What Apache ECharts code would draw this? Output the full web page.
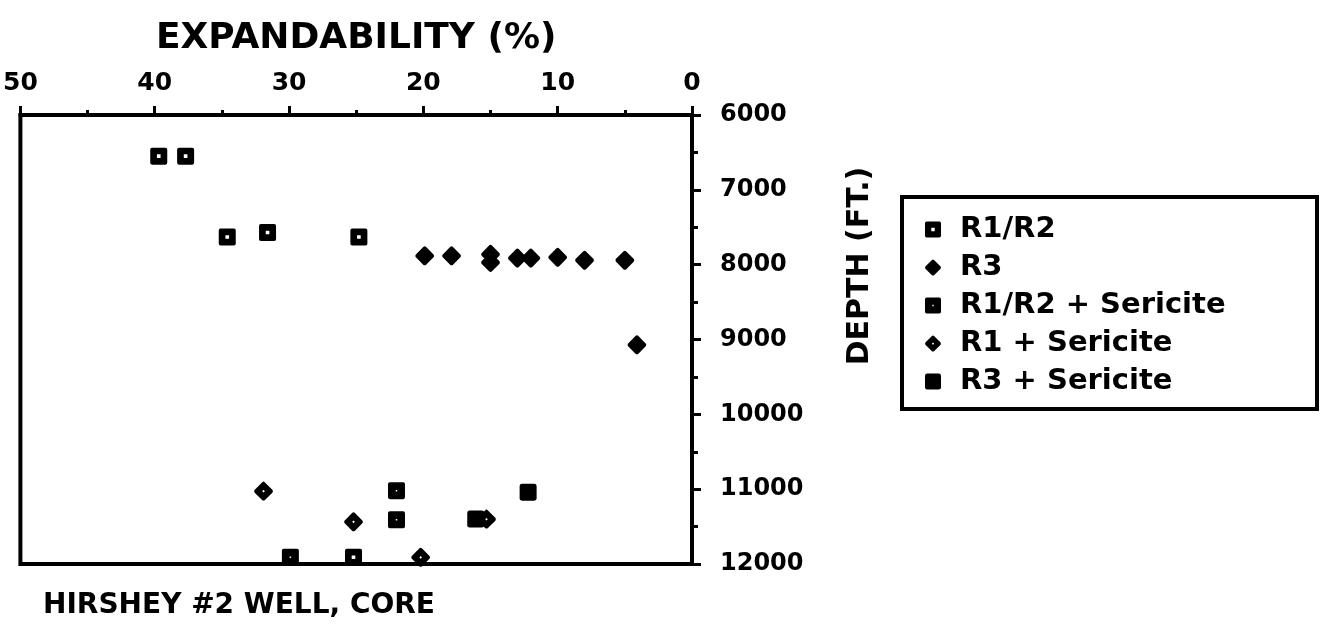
<!DOCTYPE html>
<html>
<head>
<meta charset="utf-8">
<title>Hirshey #2 Well, Core</title>
<script src="https://cdn.jsdelivr.net/npm/echarts@6/dist/echarts.min.js"></script>
<style>
  html, body { margin: 0; padding: 0; background: #fff; }
  #chart { width: 1323px; height: 627px; }
</style>
</head>
<body>
<div id="chart"></div>
<script>
// Expandability (%) vs depth (ft) for the clay samples, grouped by ordering type
const xTicks = [0, 10, 20, 30, 40, 50];
const depthTicks = [6000, 7000, 8000, 9000, 10000, 11000, 12000];

const seriesNames = ['R1/R2', 'R3', 'R1/R2 + Sericite', 'R1 + Sericite', 'R3 + Sericite'];

// [expandability %, depth ft]
const r1r2 = [[39.7, 6550], [37.7, 6550], [34.6, 7630], [31.6, 7570], [24.8, 7630], [25.2, 11910]];
const r3 = [[19.9, 7880], [17.9, 7880], [15.0, 7860], [15.0, 7970], [13.0, 7910], [12.0, 7910],
            [10.0, 7900], [8.0, 7940], [5.0, 7940], [4.1, 9070]];
const r1r2Sericite = [[29.9, 11910], [22.0, 11020], [22.0, 11410]];
const r1Sericite = [[31.9, 11025], [25.2, 11435], [15.3, 11400], [20.2, 11910]];
const r3Sericite = [[16.1, 11400], [12.2, 11040]];

const FONT = 'DejaVu Sans';
const INK = '#000';

// marker shapes: outer outline with an inner hole of opposite winding
const SYM_OPEN_SQUARE = 'path://M1.5,0H12.5Q14,0 14,1.5V12.5Q14,14 12.5,14H1.5Q0,14 0,12.5V1.5Q0,0 1.5,0Z M5.5,5.5V8.5H8.5V5.5Z';
const SYM_DOT_SQUARE = 'path://M1.5,0H12.5Q14,0 14,1.5V12.5Q14,14 12.5,14H1.5Q0,14 0,12.5V1.5Q0,0 1.5,0Z M6.4,6.4V7.6H7.6V6.4Z';
const SYM_SOLID_SQUARE = 'path://M2,0H12Q14,0 14,2V12Q14,14 12,14H2Q0,14 0,12V2Q0,0 2,0Z';
const SYM_SOLID_DIAMOND = 'path://M8,0Q8.6,0 9,0.5L15.5,7Q16,8 15.5,9L9,15.5Q8,16 7,15.5L0.5,9Q0,8 0.5,7L7,0.5Q7.4,0 8,0Z';
const SYM_DOT_DIAMOND = 'path://M8,0Q8.6,0 9,0.5L15.5,7Q16,8 15.5,9L9,15.5Q8,16 7,15.5L0.5,9Q0,8 0.5,7L7,0.5Q7.4,0 8,0Z M8,6.9L6.9,8L8,9.1L9.1,8Z';

function scatter(name, data, symbol, size) {
  return {
    name: name,
    type: 'scatter',
    data: data,
    symbol: symbol,
    symbolSize: size,
    symbolKeepAspect: true,
    itemStyle: { color: INK, opacity: 1 },
    z: 5
  };
}

const chart = echarts.init(document.getElementById('chart'), null, { renderer: 'canvas' });

chart.setOption({
  animation: false,
  backgroundColor: '#fff',
  textStyle: { fontFamily: FONT, fontWeight: 'bold', color: INK },
  title: {
    text: 'HIRSHEY #2 WELL, CORE',
    left: 43,
    top: 592,
    padding: 0,
    textStyle: { fontFamily: FONT, fontWeight: 'bold', fontSize: 28, color: INK }
  },
  grid: {
    left: 16.5, right: 631, top: 115, bottom: 63,
    show: true, borderColor: INK, borderWidth: 4, backgroundColor: 'transparent'
  },
  xAxis: {
    type: 'value',
    position: 'top',
    inverse: true,
    min: xTicks[0],
    max: xTicks[xTicks.length - 1],
    interval: 10,
    name: 'EXPANDABILITY (%)',
    nameLocation: 'middle',
    nameGap: 58,
    nameTextStyle: { fontFamily: FONT, fontWeight: 'bold', fontSize: 36, color: INK },
    axisLine: { show: true, lineStyle: { color: INK, width: 4 } },
    axisTick: { show: true, inside: false, length: 9, lineStyle: { color: INK, width: 3 } },
    minorTick: { show: true, splitNumber: 2, length: 5, lineStyle: { color: INK, width: 3 } },
    splitLine: { show: false },
    axisLabel: { fontFamily: FONT, fontWeight: 'bold', fontSize: 25, color: INK, margin: 19 }
  },
  yAxis: {
    type: 'value',
    position: 'right',
    inverse: true,
    min: depthTicks[0],
    max: depthTicks[depthTicks.length - 1],
    interval: 1000,
    axisLine: { show: true, lineStyle: { color: INK, width: 4 } },
    axisTick: { show: true, inside: false, length: 9, lineStyle: { color: INK, width: 3 } },
    minorTick: { show: true, splitNumber: 2, length: 6, lineStyle: { color: INK, width: 3 } },
    splitLine: { show: false },
    axisLabel: {
      fontFamily: FONT, fontWeight: 'bold', fontSize: 24, color: INK, margin: 28,
      formatter: function (v) { return String(v); }
    }
  },
  legend: {
    orient: 'vertical',
    left: 925,
    top: 215,
    padding: 0,
    itemWidth: 16,
    itemHeight: 16,
    itemGap: 9,
    selectedMode: false,
    data: seriesNames,
    textStyle: {
      fontFamily: FONT, fontWeight: 'bold', fontSize: 29, color: INK,
      lineHeight: 28, padding: [0, 0, 0, 14]
    }
  },
  graphic: [
    {
      type: 'rect',
      shape: { x: 902, y: 197, width: 415, height: 212 },
      style: { fill: 'transparent', stroke: INK, lineWidth: 4 },
      silent: true
    },
    {
      type: 'text',
      x: 860,
      y: 266,
      rotation: Math.PI / 2,
      style: {
        text: 'DEPTH (FT.)',
        font: 'bold 30px "DejaVu Sans"',
        fill: INK,
        align: 'center',
        verticalAlign: 'middle'
      },
      silent: true
    }
  ],
  series: [
    scatter(seriesNames[0], r1r2, SYM_OPEN_SQUARE, 17),
    scatter(seriesNames[1], r3, SYM_SOLID_DIAMOND, 19),
    scatter(seriesNames[2], r1r2Sericite, SYM_DOT_SQUARE, 17),
    scatter(seriesNames[3], r1Sericite, SYM_DOT_DIAMOND, 19),
    scatter(seriesNames[4], r3Sericite, SYM_SOLID_SQUARE, 17)
  ]
});
</script>
</body>
</html>
